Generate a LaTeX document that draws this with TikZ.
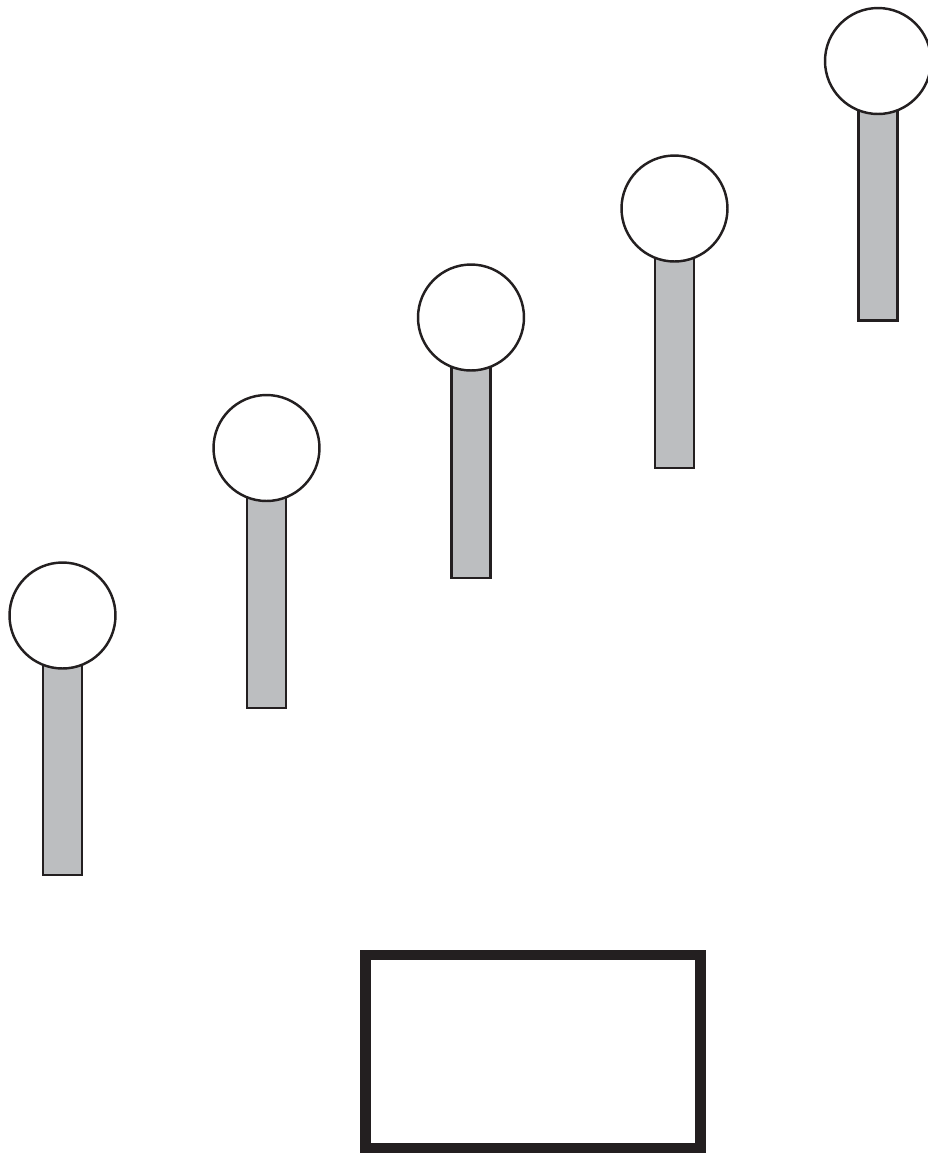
\documentclass[tikz,border=0pt]{standalone}
\usepackage{tikz}
\usetikzlibrary{positioning}
\definecolor{pingray}{RGB}{188,190,192}
\definecolor{inkblack}{RGB}{35,31,32}
\tikzset{
  head/.style={circle,draw=inkblack,fill=white,line width=1.4pt,minimum size=2.12cm,inner sep=0pt},
  bar/.style={draw=inkblack,fill=pingray,line width=1.4pt},
  tray/.style={draw=inkblack,line width=5.8pt,minimum width=6.7cm,minimum height=3.86cm,inner sep=0pt}
}

\begin{document}
\begin{tikzpicture}[x=0.02cm,y=-0.02cm]
  \useasboundingbox (0,0) rectangle (928,1154);
  \foreach \x/\y/\b/\n in {62.5/615.5/875/1,266.5/448/708/2,471/317.5/578/3,674.5/208.5/468/4,878/61/320.5/5}{
    \draw[bar] (\x-19.5,\y) rectangle (\x+19.5,\b);
    \node[head] (head\n) at (\x,\y) {};
  }
  \node[tray] (tray) at (533,1051.5) {};
\end{tikzpicture}
\end{document}
